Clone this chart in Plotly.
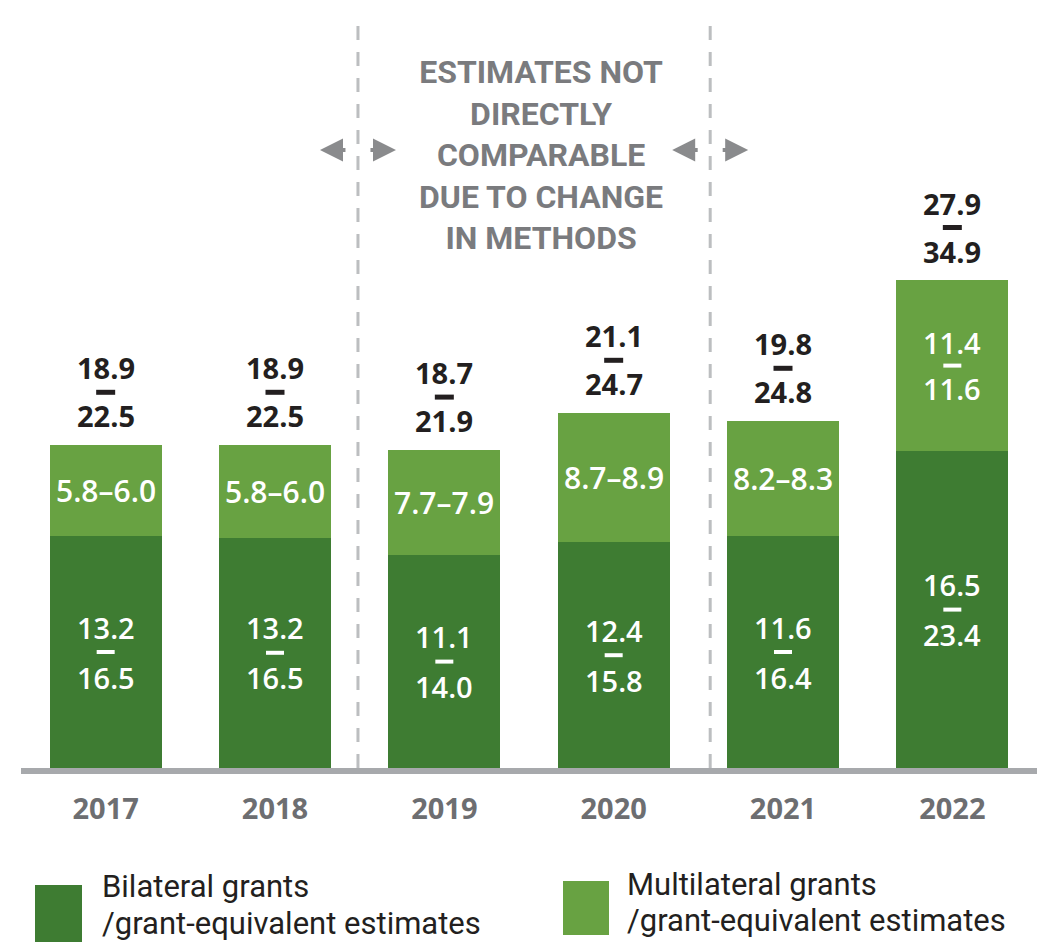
import plotly.graph_objects as go

# ---------------- data ----------------
years = ["2017", "2018", "2019", "2020", "2021", "2022"]
# bar heights (USD bn, as drawn)
bilateral_height = [14.5, 14.4, 13.3, 14.1, 14.5, 19.8]
multilateral_height = [5.7, 5.8, 6.6, 8.1, 7.2, 10.7]
# range labels
bilateral_low = [13.2, 13.2, 11.1, 12.4, 11.6, 16.5]
bilateral_high = [16.5, 16.5, 14.0, 15.8, 16.4, 23.4]
multilateral_low = [5.8, 5.8, 7.7, 8.7, 8.2, 11.4]
multilateral_high = [6.0, 6.0, 7.9, 8.9, 8.3, 11.6]
total_low = [18.9, 18.9, 18.7, 21.1, 19.8, 27.9]
total_high = [22.5, 22.5, 21.9, 24.7, 24.8, 34.9]
note_text = "ESTIMATES NOT<br>DIRECTLY<br>COMPARABLE<br>DUE TO CHANGE<br>IN METHODS"
legend_bilateral = ["Bilateral grants", "/grant-equivalent estimates"]
legend_multilateral = ["Multilateral grants", "/grant-equivalent estimates"]

# ---------------- style ----------------
W, H = 1052, 945
ML, MR, MT, MB = 21, 15, 8, 177
PW, PH = W - ML - MR, H - MT - MB
DARK = "#3e7c32"
LIGHT = "#68a242"
BLACK = "#231f20"
GREY_TXT = "#7a7b7e"
GREY_LINE = "#bcbec0"
AXIS = "#a7a9ac"
NUM_FONT = "Open Sans"
TXT_FONT = "Roboto"


def px_x(px):
    return (px - ML) / PW


def px_y(py):
    return (H - MB - py) / PH


xs = list(range(len(years)))
fig = go.Figure()
fig.add_trace(go.Bar(x=xs, y=bilateral_height, marker=dict(color=DARK, line=dict(width=0)),
                     width=0.66, name="Bilateral", hoverinfo="skip"))
fig.add_trace(go.Bar(x=xs, y=multilateral_height, marker=dict(color=LIGHT, line=dict(width=0)),
                     width=0.66, name="Multilateral", hoverinfo="skip"))

ann = []
shapes = []


def num(v):
    return f"{v:.1f}"


for i in xs:
    b = bilateral_height[i]
    m = multilateral_height[i]
    top = b + m
    # total label above bar
    for txt, ys in ((num(total_low[i]), 77), (num(total_high[i]), 29)):
        ann.append(dict(x=i, y=top, yshift=ys, text=txt, showarrow=False, xanchor="center", yanchor="middle",
                        font=dict(family=NUM_FONT, size=29, color=BLACK, weight="bold")))
    shapes.append(dict(type="rect", xref="x", yref="y", xsizemode="pixel", ysizemode="pixel",
                       xanchor=i, yanchor=top, x0=-9.5, x1=9.5, y0=50, y1=55,
                       fillcolor=BLACK, line=dict(width=0)))
    # bilateral label
    yc = b / 2
    for txt, ys in ((num(bilateral_low[i]), 25), (num(bilateral_high[i]), -25)):
        ann.append(dict(x=i, y=yc, yshift=ys, text=txt, showarrow=False, xanchor="center", yanchor="middle",
                        font=dict(family=NUM_FONT, size=29, color="white", weight=600)))
    shapes.append(dict(type="rect", xref="x", yref="y", xsizemode="pixel", ysizemode="pixel",
                       xanchor=i, yanchor=yc, x0=-9, x1=9, y0=-2, y1=2,
                       fillcolor="white", line=dict(width=0)))
    # multilateral label
    ym = b + m / 2
    if m > 10:
        for txt, ys in ((num(multilateral_low[i]), 23), (num(multilateral_high[i]), -23)):
            ann.append(dict(x=i, y=ym, yshift=ys, text=txt, showarrow=False, xanchor="center", yanchor="middle",
                            font=dict(family=NUM_FONT, size=29, color="white", weight=600)))
        shapes.append(dict(type="rect", xref="x", yref="y", xsizemode="pixel", ysizemode="pixel",
                           xanchor=i, yanchor=ym, x0=-9, x1=9, y0=-2, y1=2,
                           fillcolor="white", line=dict(width=0)))
    else:
        ann.append(dict(x=i, y=ym, text=num(multilateral_low[i]) + "\u2013" + num(multilateral_high[i]),
                        showarrow=False, xanchor="center", yanchor="middle",
                        font=dict(family=NUM_FONT, size=30, color="white", weight=600)))

# dashed separators
sep_positions = [1.49, 3.57]
for sx in sep_positions:
    shapes.append(dict(type="line", xref="x", yref="paper", x0=sx, x1=sx, y0=0, y1=px_y(25),
                       line=dict(color=GREY_LINE, width=3, dash="14px,12px"), layer="below"))
    arrow_y = px_y(150)
    for xshift, ax in ((-38, 27), (38, -27)):
        ann.append(dict(x=sx, y=arrow_y, xref="x", yref="paper", xshift=xshift, ax=ax, ay=0,
                        text="", showarrow=True, arrowhead=2, arrowsize=1.15, arrowwidth=4,
                        arrowcolor="#8a8b8d"))

# note block
ann.append(dict(x=sum(sep_positions) / 2 + 0.04, y=px_y(155), xref="x", yref="paper", text=note_text,
                showarrow=False, xanchor="center", yanchor="middle", align="center",
                font=dict(family=TXT_FONT, size=32, color=GREY_TXT, weight="bold")))

# legend (drawn)
legend_items = [
    (DARK, legend_bilateral, 35, 82, 885, 942, 100, (886, 923)),
    (LIGHT, legend_multilateral, 563, 609, 881, 935, 625, (884, 921)),
]
for color, lines, x0, x1, y0, y1, tx, tys in legend_items:
    shapes.append(dict(type="rect", xref="paper", yref="paper", x0=px_x(x0), x1=px_x(x1),
                       y0=px_y(y1), y1=px_y(y0), fillcolor=color, line=dict(width=0)))
    for line, ty in zip(lines, tys):
        ann.append(dict(x=px_x(tx), y=px_y(ty), xref="paper", yref="paper", text=line, showarrow=False,
                        xanchor="left", yanchor="middle",
                        font=dict(family=TXT_FONT, size=31, color=BLACK)))

fig.update_layout(
    width=W, height=H,
    margin=dict(l=ML, r=MR, t=MT, b=MB, pad=0),
    barmode="stack",
    showlegend=False,
    plot_bgcolor="white", paper_bgcolor="white",
    annotations=ann, shapes=shapes,
    xaxis=dict(range=[-0.5, 5.5], tickvals=xs, ticktext=years, showgrid=False, zeroline=False,
               showline=True, linecolor=AXIS, linewidth=6, ticks="", ticklabelstandoff=10,
               tickfont=dict(family=NUM_FONT, size=29, color="#6d6e71", weight="bold")),
    yaxis=dict(range=[0, PH / 16], visible=False, showgrid=False, zeroline=False),
)

fig.write_html("out.html")
